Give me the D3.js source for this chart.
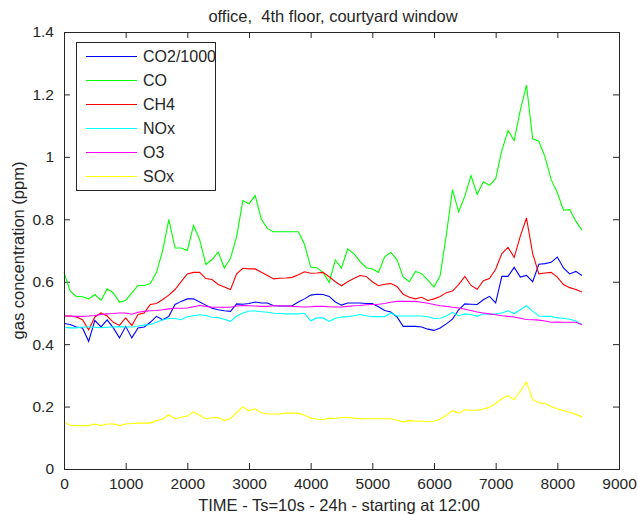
<!DOCTYPE html>
<html>
  <head>
    <title>office, 4th floor, courtyard window</title>
    <!-- Load D3 from CDN -->
    <script src="https://d3js.org/d3.v7.min.js" charset="utf-8"></script>
    <style type="text/css">
      body { margin: 0; background: #ffffff; }
      text { font-family: "Liberation Sans", Arial, sans-serif; fill: #262626; }
    </style>
  </head>
  <body>
    <script type="text/javascript">

      // Samples, one every 100 steps (0 .. 8400)
      var timeSteps = d3.range(0, 8500, 100);

      var co2 = [0.466,0.463,0.455,0.452,0.409,0.476,0.455,0.478,0.452,0.42,
                 0.457,0.42,0.452,0.455,0.47,0.489,0.478,0.489,0.527,0.537,
                 0.545,0.545,0.535,0.525,0.515,0.51,0.507,0.505,0.529,0.528,
                 0.53,0.535,0.532,0.532,0.523,0.522,0.522,0.523,0.535,0.545,
                 0.557,0.56,0.559,0.553,0.535,0.525,0.532,0.532,0.532,0.53,
                 0.53,0.52,0.508,0.503,0.487,0.457,0.457,0.457,0.455,0.448,
                 0.444,0.452,0.465,0.48,0.51,0.529,0.528,0.527,0.542,0.553,
                 0.532,0.617,0.617,0.646,0.615,0.62,0.60,0.656,0.658,0.662,
                 0.679,0.644,0.625,0.633,0.62];

      var co = [0.63,0.57,0.553,0.552,0.545,0.559,0.54,0.577,0.564,0.535,
                0.54,0.564,0.588,0.588,0.594,0.63,0.70,0.80,0.708,0.708,
                0.70,0.78,0.735,0.655,0.671,0.695,0.644,0.675,0.745,0.86,
                0.85,0.876,0.80,0.77,0.76,0.76,0.76,0.76,0.76,0.72,
                0.647,0.645,0.63,0.598,0.67,0.644,0.705,0.69,0.665,0.645,
                0.641,0.63,0.68,0.694,0.67,0.615,0.60,0.633,0.626,0.605,
                0.583,0.62,0.75,0.895,0.824,0.874,0.94,0.88,0.92,0.909,
                0.93,1.02,1.084,1.052,1.15,1.23,1.058,1.05,1.0,0.927,
                0.885,0.829,0.831,0.794,0.765];

      var ch4 = [0.49,0.49,0.487,0.478,0.446,0.487,0.5,0.49,0.47,0.46,
                 0.484,0.46,0.495,0.5,0.527,0.53,0.543,0.557,0.575,0.60,
                 0.625,0.63,0.63,0.61,0.607,0.591,0.583,0.575,0.625,0.643,
                 0.641,0.641,0.63,0.62,0.609,0.611,0.612,0.614,0.622,0.632,
                 0.627,0.628,0.63,0.616,0.60,0.587,0.6,0.61,0.62,0.617,
                 0.60,0.587,0.592,0.594,0.585,0.56,0.55,0.545,0.55,0.54,
                 0.545,0.553,0.565,0.57,0.591,0.617,0.588,0.576,0.603,0.61,
                 0.64,0.69,0.71,0.678,0.746,0.804,0.69,0.625,0.628,0.63,
                 0.615,0.591,0.581,0.575,0.567];

      var nox = [0.454,0.452,0.452,0.455,0.455,0.454,0.453,0.454,0.455,0.456,
                 0.455,0.455,0.458,0.461,0.463,0.47,0.478,0.482,0.482,0.478,
                 0.488,0.491,0.494,0.492,0.486,0.485,0.48,0.473,0.49,0.5,
                 0.506,0.506,0.504,0.502,0.499,0.498,0.497,0.497,0.497,0.499,
                 0.475,0.484,0.484,0.473,0.483,0.487,0.488,0.491,0.495,0.491,
                 0.488,0.488,0.488,0.5,0.49,0.49,0.49,0.49,0.49,0.488,
                 0.482,0.483,0.49,0.502,0.491,0.497,0.495,0.489,0.497,0.496,
                 0.497,0.5,0.507,0.498,0.51,0.523,0.506,0.49,0.489,0.489,
                 0.484,0.483,0.48,0.474,0.462];

      var o3 = [0.49,0.49,0.489,0.489,0.49,0.492,0.495,0.497,0.498,0.5,
                0.5,0.496,0.502,0.505,0.507,0.508,0.51,0.513,0.515,0.515,
                0.516,0.52,0.524,0.521,0.518,0.518,0.518,0.518,0.522,0.524,
                0.523,0.522,0.521,0.521,0.523,0.523,0.522,0.521,0.52,0.519,
                0.52,0.521,0.521,0.52,0.519,0.519,0.521,0.523,0.524,0.526,
                0.527,0.528,0.53,0.534,0.537,0.537,0.537,0.537,0.534,0.531,
                0.527,0.523,0.521,0.518,0.516,0.512,0.508,0.503,0.5,0.497,
                0.494,0.491,0.489,0.487,0.483,0.479,0.478,0.477,0.474,0.47,
                0.471,0.47,0.47,0.47,0.462];

      var sox = [0.15,0.14,0.139,0.139,0.139,0.144,0.139,0.144,0.144,0.139,
                 0.144,0.146,0.147,0.147,0.147,0.155,0.16,0.174,0.161,0.166,
                 0.17,0.183,0.172,0.161,0.164,0.165,0.156,0.161,0.181,0.199,
                 0.187,0.193,0.18,0.176,0.176,0.176,0.179,0.179,0.179,0.172,
                 0.163,0.16,0.158,0.163,0.162,0.165,0.166,0.163,0.161,0.161,
                 0.161,0.161,0.161,0.161,0.156,0.151,0.155,0.154,0.153,0.152,
                 0.153,0.16,0.172,0.187,0.179,0.19,0.188,0.188,0.192,0.198,
                 0.21,0.225,0.235,0.222,0.25,0.279,0.222,0.212,0.21,0.2,
                 0.193,0.187,0.182,0.175,0.167];

      var seriesNames = ["CO2/1000", "CO", "CH4", "NOx", "O3", "SOx"];
      var seriesColors = ["#0000ff", "#00ff00", "#ff0000", "#00ffff", "#ff00ff", "#ffff00"];
      var seriesValues = [co2, co, ch4, nox, o3, sox];

      var xTicks = [0, 1000, 2000, 3000, 4000, 5000, 6000, 7000, 8000, 9000];
      var yTicks = [0, 0.2, 0.4, 0.6, 0.8, 1, 1.2, 1.4];

      // Setup size (plot box edges in pixels)
      var width = 638;
      var height = 515;
      var plotLeft = 64, plotRight = 619, plotTop = 32, plotBottom = 469;

      var svg = d3.select("body")
          .append("svg")
          .attr("width", width)
          .attr("height", height);

      var x = d3.scaleLinear().domain([0, 9000]).range([plotLeft, plotRight]);
      var y = d3.scaleLinear().domain([0, 1.4]).range([plotBottom, plotTop]);

      // Axes: ticks point inward on all four sides
      function styleAxis(g) {
        g.select(".domain").remove();
        g.selectAll("line").attr("stroke", "#262626");
        g.selectAll("text").style("font-size", "15.5px").attr("fill", "#262626");
      }

      svg.append("g")
          .attr("transform", "translate(0," + plotBottom + ")")
          .call(d3.axisBottom(x).tickValues(xTicks).tickSize(-6).tickPadding(9).tickFormat(d3.format("d")))
          .call(styleAxis);

      svg.append("g")
          .attr("transform", "translate(0," + plotTop + ")")
          .call(d3.axisTop(x).tickValues(xTicks).tickSize(-6).tickFormat(""))
          .call(styleAxis);

      svg.append("g")
          .attr("transform", "translate(" + plotLeft + ",0)")
          .call(d3.axisLeft(y).tickValues(yTicks).tickSize(-6).tickPadding(10).tickFormat(function(d) { return String(+d.toFixed(1)); }))
          .call(styleAxis);

      svg.append("g")
          .attr("transform", "translate(" + plotRight + ",0)")
          .call(d3.axisRight(y).tickValues(yTicks).tickSize(-6).tickFormat(""))
          .call(styleAxis);

      // Draw the lines
      var line = d3.line()
          .x(function(d, i) { return x(timeSteps[i]); })
          .y(function(d) { return y(d); });

      svg.append("g").selectAll("path")
          .data(seriesValues)
          .join("path")
          .attr("fill", "none")
          .attr("stroke", function(d, i) { return seriesColors[i]; })
          .attr("stroke-width", 1.1)
          .attr("d", line);

      // Axes box
      svg.append("rect")
          .attr("x", plotLeft + 0.5)
          .attr("y", plotTop + 0.5)
          .attr("width", plotRight - plotLeft)
          .attr("height", plotBottom - plotTop)
          .attr("fill", "none")
          .attr("stroke", "#262626")
          .attr("stroke-width", 1);

      // Legend
      var legend = svg.append("g").attr("transform", "translate(76,42)");
      legend.append("rect")
          .attr("x", 0.5).attr("y", 0.5)
          .attr("width", 139).attr("height", 148)
          .attr("fill", "#ffffff")
          .attr("stroke", "#262626");

      var rows = legend.selectAll("g.row")
          .data(seriesNames)
          .join("g")
          .attr("class", "row")
          .attr("transform", function(d, i) { return "translate(0," + (14 + i * 24) + ")"; });

      rows.append("line")
          .attr("x1", 10).attr("x2", 61)
          .attr("y1", 0.5).attr("y2", 0.5)
          .attr("stroke", function(d, i) { return seriesColors[i]; })
          .attr("stroke-width", 1.1);

      rows.append("text")
          .attr("x", 67)
          .attr("dy", "0.35em")
          .style("font-size", "16px")
          .text(function(d) { return d; });

      // Titles
      svg.append("text")
          .attr("x", 333).attr("y", 22)
          .attr("text-anchor", "middle")
          .style("font-size", "16.5px")
          .style("white-space", "pre")
          .text("office,  4th floor, courtyard window");

      svg.append("text")
          .attr("x", 339).attr("y", 511)
          .attr("text-anchor", "middle")
          .style("font-size", "16.5px")
          .text("TIME - Ts=10s - 24h - starting at 12:00");

      svg.append("text")
          .attr("transform", "translate(24," + ((plotTop + plotBottom) / 2) + ") rotate(-90)")
          .attr("text-anchor", "middle")
          .style("font-size", "16.5px")
          .text("gas concentration (ppm)");

    </script>
  </body>
</html>
